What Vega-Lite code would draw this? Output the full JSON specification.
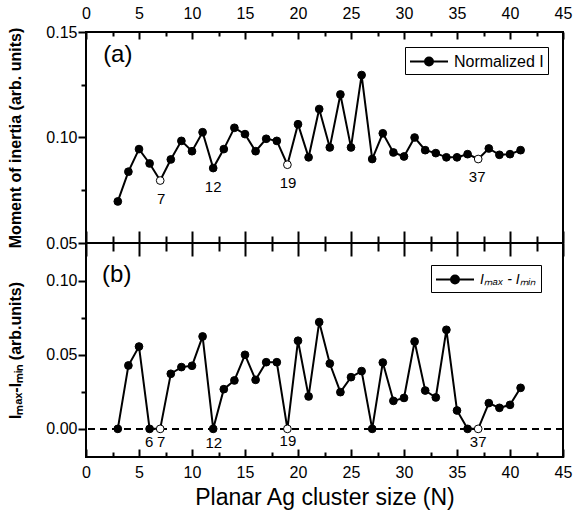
{
  "$schema": "https://vega.github.io/schema/vega-lite/v6.json",
  "padding": {"left": 6, "top": 4, "right": 5, "bottom": 2},
  "background": "white",
  "config": {
    "font": "Liberation Sans",
    "view": {"stroke": "black", "strokeWidth": 2},
    "axis": {
      "domain": false, "grid": false, "zindex": 1,
      "labelFont": "Liberation Sans", "labelFontSize": 16, "labelColor": "black",
      "labelFlush": false, "labelOverlap": false, "labelBound": false,
      "tickColor": "#000000", "tickWidth": 2, "tickOpacity": 1,
      "titleFont": "Liberation Sans", "titleColor": "black"
    }
  },
  "datasets": {
    "top": [
      {"N": 3, "I": 0.0697, "open": false, "series": "Normalized I"},
      {"N": 4, "I": 0.0838, "open": false, "series": "Normalized I"},
      {"N": 5, "I": 0.0945, "open": false, "series": "Normalized I"},
      {"N": 6, "I": 0.0877, "open": false, "series": "Normalized I"},
      {"N": 7, "I": 0.0796, "open": true, "series": "Normalized I"},
      {"N": 8, "I": 0.0896, "open": false, "series": "Normalized I"},
      {"N": 9, "I": 0.0984, "open": false, "series": "Normalized I"},
      {"N": 10, "I": 0.0935, "open": false, "series": "Normalized I"},
      {"N": 11, "I": 0.1025, "open": false, "series": "Normalized I"},
      {"N": 12, "I": 0.0855, "open": false, "series": "Normalized I"},
      {"N": 13, "I": 0.0945, "open": false, "series": "Normalized I"},
      {"N": 14, "I": 0.1046, "open": false, "series": "Normalized I"},
      {"N": 15, "I": 0.1016, "open": false, "series": "Normalized I"},
      {"N": 16, "I": 0.0935, "open": false, "series": "Normalized I"},
      {"N": 17, "I": 0.0994, "open": false, "series": "Normalized I"},
      {"N": 18, "I": 0.0984, "open": false, "series": "Normalized I"},
      {"N": 19, "I": 0.0871, "open": true, "series": "Normalized I"},
      {"N": 20, "I": 0.1063, "open": false, "series": "Normalized I"},
      {"N": 21, "I": 0.0906, "open": false, "series": "Normalized I"},
      {"N": 22, "I": 0.1135, "open": false, "series": "Normalized I"},
      {"N": 23, "I": 0.0953, "open": false, "series": "Normalized I"},
      {"N": 24, "I": 0.1204, "open": false, "series": "Normalized I"},
      {"N": 25, "I": 0.0953, "open": false, "series": "Normalized I"},
      {"N": 26, "I": 0.1296, "open": false, "series": "Normalized I"},
      {"N": 27, "I": 0.0898, "open": false, "series": "Normalized I"},
      {"N": 28, "I": 0.1020, "open": false, "series": "Normalized I"},
      {"N": 29, "I": 0.0929, "open": false, "series": "Normalized I"},
      {"N": 30, "I": 0.0910, "open": false, "series": "Normalized I"},
      {"N": 31, "I": 0.1000, "open": false, "series": "Normalized I"},
      {"N": 32, "I": 0.0940, "open": false, "series": "Normalized I"},
      {"N": 33, "I": 0.0926, "open": false, "series": "Normalized I"},
      {"N": 34, "I": 0.0906, "open": false, "series": "Normalized I"},
      {"N": 35, "I": 0.0906, "open": false, "series": "Normalized I"},
      {"N": 36, "I": 0.0921, "open": false, "series": "Normalized I"},
      {"N": 37, "I": 0.0898, "open": true, "series": "Normalized I"},
      {"N": 38, "I": 0.0948, "open": false, "series": "Normalized I"},
      {"N": 39, "I": 0.0918, "open": false, "series": "Normalized I"},
      {"N": 40, "I": 0.0921, "open": false, "series": "Normalized I"},
      {"N": 41, "I": 0.0940, "open": false, "series": "Normalized I"}
    ],
    "bottom": [
      {"N": 3, "D": 0.0, "open": false, "series": "Iₘₐₓ - Iₘᵢₙ"},
      {"N": 4, "D": 0.0428, "open": false, "series": "Iₘₐₓ - Iₘᵢₙ"},
      {"N": 5, "D": 0.0556, "open": false, "series": "Iₘₐₓ - Iₘᵢₙ"},
      {"N": 6, "D": 0.0, "open": false, "series": "Iₘₐₓ - Iₘᵢₙ"},
      {"N": 7, "D": 0.0, "open": true, "series": "Iₘₐₓ - Iₘᵢₙ"},
      {"N": 8, "D": 0.0372, "open": false, "series": "Iₘₐₓ - Iₘᵢₙ"},
      {"N": 9, "D": 0.0417, "open": false, "series": "Iₘₐₓ - Iₘᵢₙ"},
      {"N": 10, "D": 0.0426, "open": false, "series": "Iₘₐₓ - Iₘᵢₙ"},
      {"N": 11, "D": 0.0624, "open": false, "series": "Iₘₐₓ - Iₘᵢₙ"},
      {"N": 12, "D": 0.0, "open": false, "series": "Iₘₐₓ - Iₘᵢₙ"},
      {"N": 13, "D": 0.0268, "open": false, "series": "Iₘₐₓ - Iₘᵢₙ"},
      {"N": 14, "D": 0.0327, "open": false, "series": "Iₘₐₓ - Iₘᵢₙ"},
      {"N": 15, "D": 0.0500, "open": false, "series": "Iₘₐₓ - Iₘᵢₙ"},
      {"N": 16, "D": 0.0331, "open": false, "series": "Iₘₐₓ - Iₘᵢₙ"},
      {"N": 17, "D": 0.0450, "open": false, "series": "Iₘₐₓ - Iₘᵢₙ"},
      {"N": 18, "D": 0.0450, "open": false, "series": "Iₘₐₓ - Iₘᵢₙ"},
      {"N": 19, "D": 0.0, "open": true, "series": "Iₘₐₓ - Iₘᵢₙ"},
      {"N": 20, "D": 0.0595, "open": false, "series": "Iₘₐₓ - Iₘᵢₙ"},
      {"N": 21, "D": 0.0219, "open": false, "series": "Iₘₐₓ - Iₘᵢₙ"},
      {"N": 22, "D": 0.0721, "open": false, "series": "Iₘₐₓ - Iₘᵢₙ"},
      {"N": 23, "D": 0.0441, "open": false, "series": "Iₘₐₓ - Iₘᵢₙ"},
      {"N": 24, "D": 0.0248, "open": false, "series": "Iₘₐₓ - Iₘᵢₙ"},
      {"N": 25, "D": 0.0349, "open": false, "series": "Iₘₐₓ - Iₘᵢₙ"},
      {"N": 26, "D": 0.0390, "open": false, "series": "Iₘₐₓ - Iₘᵢₙ"},
      {"N": 27, "D": 0.0, "open": false, "series": "Iₘₐₓ - Iₘᵢₙ"},
      {"N": 28, "D": 0.0448, "open": false, "series": "Iₘₐₓ - Iₘᵢₙ"},
      {"N": 29, "D": 0.0189, "open": false, "series": "Iₘₐₓ - Iₘᵢₙ"},
      {"N": 30, "D": 0.0209, "open": false, "series": "Iₘₐₓ - Iₘᵢₙ"},
      {"N": 31, "D": 0.0590, "open": false, "series": "Iₘₐₓ - Iₘᵢₙ"},
      {"N": 32, "D": 0.0259, "open": false, "series": "Iₘₐₓ - Iₘᵢₙ"},
      {"N": 33, "D": 0.0212, "open": false, "series": "Iₘₐₓ - Iₘᵢₙ"},
      {"N": 34, "D": 0.0669, "open": false, "series": "Iₘₐₓ - Iₘᵢₙ"},
      {"N": 35, "D": 0.0124, "open": false, "series": "Iₘₐₓ - Iₘᵢₙ"},
      {"N": 36, "D": 0.0, "open": false, "series": "Iₘₐₓ - Iₘᵢₙ"},
      {"N": 37, "D": 0.0, "open": true, "series": "Iₘₐₓ - Iₘᵢₙ"},
      {"N": 38, "D": 0.0174, "open": false, "series": "Iₘₐₓ - Iₘᵢₙ"},
      {"N": 39, "D": 0.0142, "open": false, "series": "Iₘₐₓ - Iₘᵢₙ"},
      {"N": 40, "D": 0.0162, "open": false, "series": "Iₘₐₓ - Iₘᵢₙ"},
      {"N": 41, "D": 0.0277, "open": false, "series": "Iₘₐₓ - Iₘᵢₙ"}
    ],
    "labelsTop": [
      {"x": 7.1, "y": 0.0709, "t": "7", "kind": "num"},
      {"x": 12.0, "y": 0.0767, "t": "12", "kind": "num"},
      {"x": 19.06, "y": 0.0785, "t": "19", "kind": "num"},
      {"x": 36.9, "y": 0.0811, "t": "37", "kind": "num"},
      {"x": 3.0, "y": 0.1389, "t": "(a)", "kind": "panel"}
    ],
    "labelsBottom": [
      {"x": 5.95, "y": -0.0088, "t": "6", "kind": "num"},
      {"x": 7.1, "y": -0.0088, "t": "7", "kind": "num"},
      {"x": 12.05, "y": -0.0095, "t": "12", "kind": "num"},
      {"x": 19.05, "y": -0.0079, "t": "19", "kind": "num"},
      {"x": 37.0, "y": -0.0086, "t": "37", "kind": "num"},
      {"x": 2.9, "y": 0.1041, "t": "(b)", "kind": "panel"}
    ]
  },
  "spacing": 0,
  "bounds": "flush",
  "resolve": {"scale": {"y": "independent", "stroke": "independent"}, "legend": {"stroke": "independent"}},
  "vconcat": [
    {
      "width": 477,
      "height": 211,
      "data": {"name": "top"},
      "resolve": {"axis": {"x": "independent", "y": "independent"}},
      "layer": [
        {
          "mark": {"type": "line", "color": "black", "strokeWidth": 2},
          "encoding": {
            "x": {
              "field": "N", "type": "quantitative",
              "scale": {"domain": [0, 45], "nice": false, "zero": false},
              "axis": {
                "orient": "top", "title": null,
                "values": [0, 5, 10, 15, 20, 25, 30, 35, 40, 45],
                "tickSize": -7, "tickColor": "#000000",
                "labelPadding": 18
              }
            },
            "y": {
              "field": "I", "type": "quantitative",
              "scale": {"domain": [0.05, 0.15], "nice": false, "zero": false},
              "axis": {
                "orient": "left",
                "title": "Moment of inertia (arb. units)",
                "titleFontSize": 16, "titleFontWeight": "bold", "titlePadding": 22,
                "values": [0.05, 0.1, 0.15],
                "format": ".2f",
                "tickSize": 8, "tickColor": "#000000",
                "labelPadding": 1
              }
            },
            "stroke": {
              "field": "series", "type": "nominal",
              "scale": {"range": ["black"]},
              "legend": {
                "orient": "none", "legendX": 319, "legendY": 15,
                "title": null, "strokeColor": "black", "padding": 4,
                "labelFontSize": 16, "labelFont": "Liberation Sans", "labelColor": "black",
                "symbolType": "M-1,0H3M1.42,0A0.42,0.42,0,1,1,0.58,0A0.42,0.42,0,1,1,1.42,0Z",
                "symbolSize": 361, "symbolStrokeWidth": 2,
                "symbolStrokeColor": "black", "symbolFillColor": "black",
                "labelOffset": 24,
                "encode": {"symbols": {"update": {"fill": {"value": "black"}, "stroke": {"value": "black"}}}}
              }
            }
          }
        },
        {
          "mark": {"type": "point", "filled": true, "size": 60, "stroke": "black", "strokeWidth": 1, "opacity": 1},
          "encoding": {
            "x": {
              "field": "N", "type": "quantitative",
              "axis": {
                "orient": "bottom", "title": null, "labels": false,
                "values": [0, 5, 10, 15, 20, 25, 30, 35, 40, 45],
                "tickSize": -12, "tickColor": "#000000"
              }
            },
            "y": {"field": "I", "type": "quantitative", "axis": null},
            "fill": {"condition": {"test": "datum.open", "value": "white"}, "value": "black"}
          }
        },
        {
          "data": {"name": "labelsTop"},
          "transform": [{"filter": "datum.kind === 'num'"}],
          "mark": {"type": "text", "fontSize": 15, "color": "black"},
          "encoding": {
            "x": {
              "field": "x", "type": "quantitative",
              "axis": {
                "orient": "top", "title": null, "labels": false,
                "values": [2.5, 7.5, 12.5, 17.5, 22.5, 27.5, 32.5, 37.5, 42.5],
                "tickSize": -4, "tickColor": "#000000"
              }
            },
            "y": {
              "field": "y", "type": "quantitative",
              "axis": {
                "orient": "left", "title": null, "labels": false,
                "values": [0.075, 0.125],
                "tickSize": 5, "tickColor": "#000000"
              }
            },
            "text": {"field": "t"}
          }
        },
        {
          "data": {"name": "labelsTop"},
          "transform": [{"filter": "datum.kind === 'panel'"}],
          "mark": {"type": "text", "fontSize": 24, "color": "black"},
          "encoding": {
            "x": {
              "field": "x", "type": "quantitative",
              "axis": {
                "orient": "bottom", "title": null, "labels": false,
                "values": [2.5, 7.5, 12.5, 17.5, 22.5, 27.5, 32.5, 37.5, 42.5],
                "tickSize": -7, "tickColor": "#000000"
              }
            },
            "y": {"field": "y", "type": "quantitative", "axis": null},
            "text": {"field": "t"}
          }
        }
      ]
    },
    {
      "width": 477,
      "height": 214,
      "data": {"name": "bottom"},
      "resolve": {"axis": {"x": "independent", "y": "independent"}},
      "layer": [
        {
          "mark": {"type": "rule", "strokeDash": [7, 5], "strokeWidth": 1.5, "color": "black"},
          "encoding": {"y": {"datum": 0, "axis": null}}
        },
        {
          "mark": {"type": "line", "color": "black", "strokeWidth": 2},
          "encoding": {
            "x": {
              "field": "N", "type": "quantitative",
              "scale": {"domain": [0, 45], "nice": false, "zero": false},
              "axis": {
                "orient": "bottom",
                "title": "Planar Ag cluster size (N)", "titleFontSize": 23, "titleFontWeight": "normal", "titlePadding": 6,
                "values": [0, 5, 10, 15, 20, 25, 30, 35, 40, 45],
                "tickSize": -8, "tickColor": "#000000",
                "labelPadding": 15
              }
            },
            "y": {
              "field": "D", "type": "quantitative",
              "scale": {"domain": [-0.019, 0.1255], "nice": false, "zero": false},
              "axis": {
                "orient": "left",
                "title": "Iₘₐₓ-Iₘᵢₙ (arb.units)",
                "titleFontSize": 16, "titleFontWeight": "bold", "titlePadding": 22,
                "values": [0, 0.05, 0.1],
                "format": ".2f",
                "tickSize": 8, "tickColor": "#000000",
                "labelPadding": 1
              }
            },
            "stroke": {
              "field": "series", "type": "nominal",
              "scale": {"range": ["black"]},
              "legend": {
                "orient": "none", "legendX": 345, "legendY": 22,
                "title": null, "strokeColor": "black", "padding": 4,
                "labelFontSize": 14, "labelFont": "Liberation Sans", "labelColor": "black", "labelFontStyle": "italic",
                "symbolType": "M-1,0H3M1.42,0A0.42,0.42,0,1,1,0.58,0A0.42,0.42,0,1,1,1.42,0Z",
                "symbolSize": 361, "symbolStrokeWidth": 2,
                "symbolStrokeColor": "black", "symbolFillColor": "black",
                "labelOffset": 24,
                "encode": {"symbols": {"update": {"fill": {"value": "black"}, "stroke": {"value": "black"}}}}
              }
            }
          }
        },
        {
          "mark": {"type": "point", "filled": true, "size": 60, "stroke": "black", "strokeWidth": 1, "opacity": 1},
          "encoding": {
            "x": {
              "field": "N", "type": "quantitative",
              "axis": {
                "orient": "top", "title": null, "labels": false,
                "values": [0, 5, 10, 15, 20, 25, 30, 35, 40, 45],
                "tickSize": -13, "tickColor": "#000000"
              }
            },
            "y": {"field": "D", "type": "quantitative", "axis": null},
            "fill": {"condition": {"test": "datum.open", "value": "white"}, "value": "black"}
          }
        },
        {
          "data": {"name": "labelsBottom"},
          "transform": [{"filter": "datum.kind === 'num'"}],
          "mark": {"type": "text", "fontSize": 15, "color": "black"},
          "encoding": {
            "x": {
              "field": "x", "type": "quantitative",
              "axis": {
                "orient": "bottom", "title": null, "labels": false,
                "values": [2.5, 7.5, 12.5, 17.5, 22.5, 27.5, 32.5, 37.5, 42.5],
                "tickSize": -5, "tickColor": "#000000"
              }
            },
            "y": {
              "field": "y", "type": "quantitative",
              "axis": {
                "orient": "left", "title": null, "labels": false,
                "values": [0.025, 0.075],
                "tickSize": 5, "tickColor": "#000000"
              }
            },
            "text": {"field": "t"}
          }
        },
        {
          "data": {"name": "labelsBottom"},
          "transform": [{"filter": "datum.kind === 'panel'"}],
          "mark": {"type": "text", "fontSize": 24, "color": "black"},
          "encoding": {
            "x": {
              "field": "x", "type": "quantitative",
              "axis": {
                "orient": "top", "title": null, "labels": false,
                "values": [2.5, 7.5, 12.5, 17.5, 22.5, 27.5, 32.5, 37.5, 42.5],
                "tickSize": -8, "tickColor": "#000000"
              }
            },
            "y": {"field": "y", "type": "quantitative", "axis": null},
            "text": {"field": "t"}
          }
        }
      ]
    }
  ]
}
